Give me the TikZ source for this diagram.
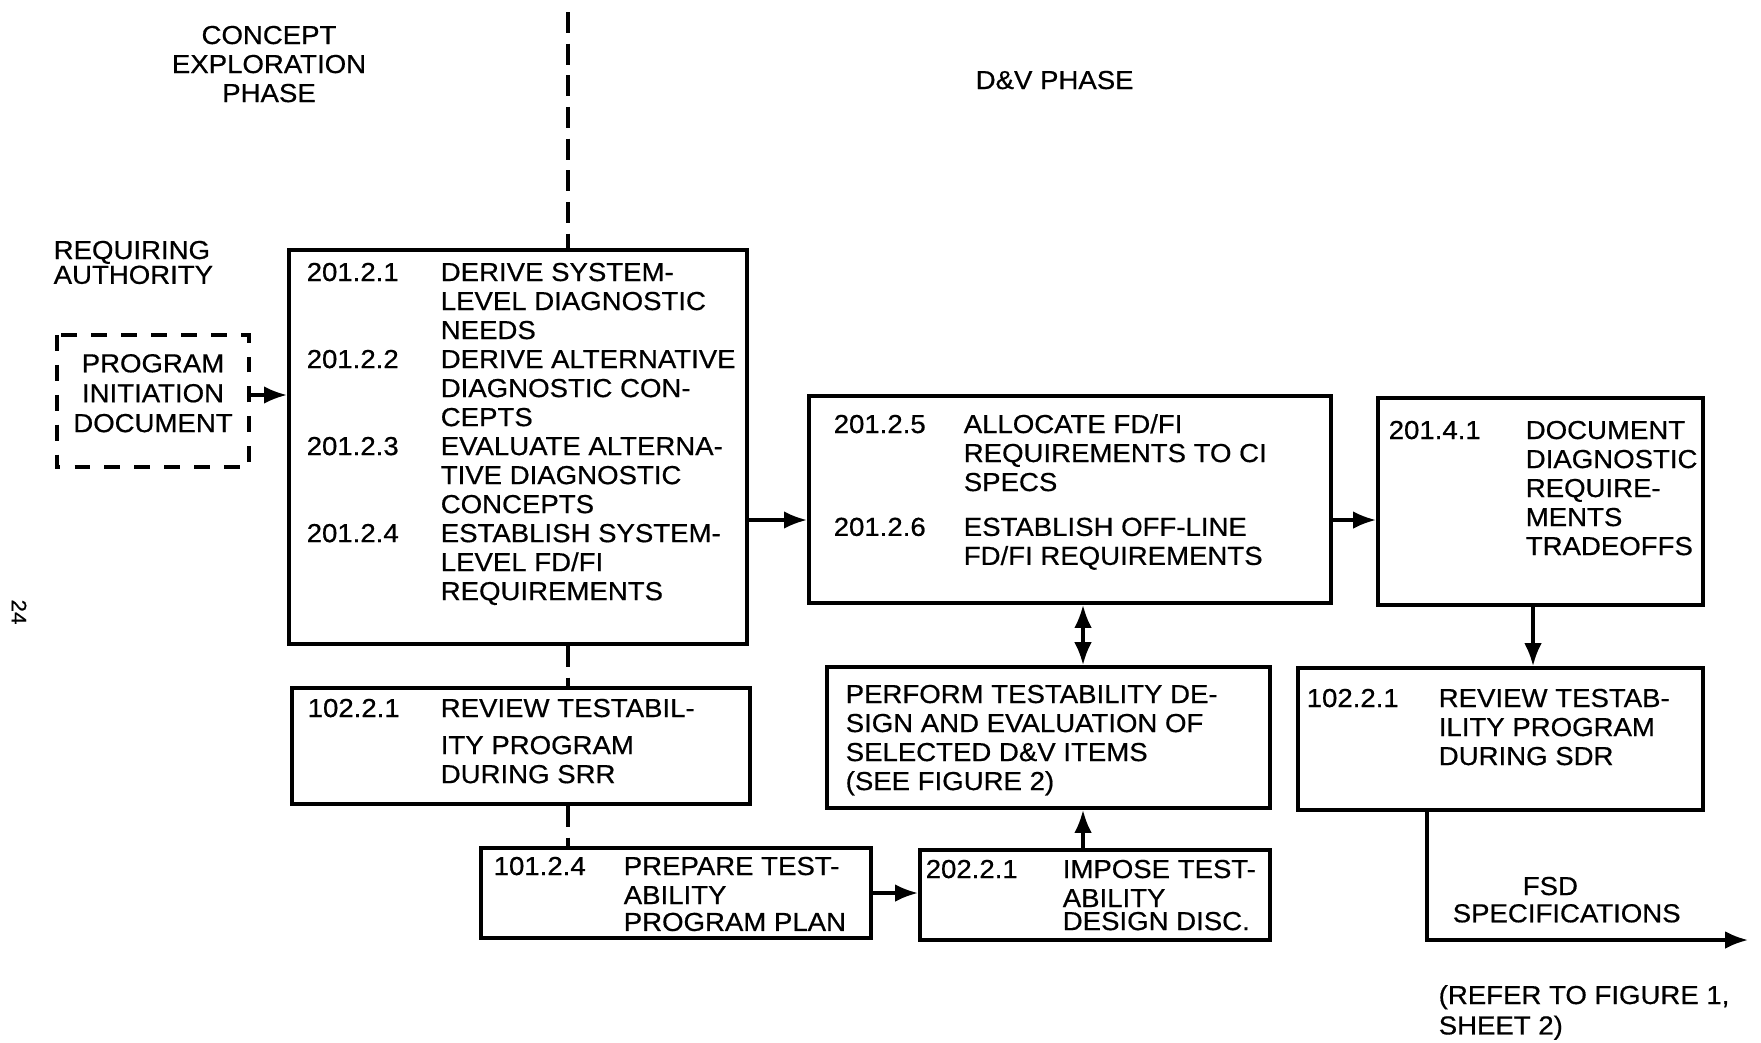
\documentclass[tikz,border=0pt]{standalone}
\usepackage{fontspec}
\setmainfont[FakeStretch=1.06, FakeBold=0.6]{Liberation Sans}
\usetikzlibrary{arrows.meta}

% number column + text column, first row on the baseline
\newenvironment{steps}[1]{\begin{tabular}[t]{@{}p{#1}@{}l@{}}}{\end{tabular}}
\newenvironment{lines}{\begin{tabular}[t]{@{}l@{}}}{\end{tabular}}

\tikzset{
    task/.style={draw, rectangle, line width=1.1pt, inner sep=0pt},
    txt/.style={anchor=base west, inner sep=0pt, font=\fontsize{7.4}{8.25}\selectfont},
    link/.style={line width=0.9pt},
    phase/.style={line width=0.9pt, dash pattern=on 6pt off 3pt},
    >={Latex[length=6.5pt,width=5pt]},
}

\begin{document}
\begin{tikzpicture}[x=0.01cm, y=-0.01cm]
    \useasboundingbox (0,0) rectangle (1761,1042);

    \node[task, minimum width=4.58cm, minimum height=3.94cm] (b1) at (518, 447) {};
    \node[task, minimum width=4.58cm, minimum height=1.16cm] (b2) at (521, 746) {};
    \node[task, minimum width=3.90cm, minimum height=0.90cm] (b8) at (676, 893) {};
    \node[task, minimum width=5.22cm, minimum height=2.07cm] (b3) at (1070, 499.5) {};
    \node[task, minimum width=3.25cm, minimum height=2.07cm] (b4) at (1540.5, 501.5) {};
    \node[task, minimum width=4.43cm, minimum height=1.41cm] (b5) at (1048.5, 737.5) {};
    \node[task, minimum width=4.05cm, minimum height=1.42cm] (b6) at (1500.5, 739) {};
    \node[task, minimum width=3.50cm, minimum height=0.90cm] (b7) at (1095, 895) {};
    \node[task, draw=none, minimum width=1.88cm, minimum height=1.28cm, align=center,
          font=\fontsize{7.4}{8.5}\selectfont] (pid) at (153, 401)
          {PROGRAM\\INITIATION\\DOCUMENT\rule[-4.5pt]{0pt}{4.5pt}};
    \draw[line width=0.9pt, dash pattern=on 4.5pt off 4pt] (pid.north west) rectangle (pid.south east);

    % texts in the boxes
    \node[txt] (t1) at (306, 281) {\begin{steps}{1.34cm}
        201.2.1 & DERIVE SYSTEM-\\
                & LEVEL DIAGNOSTIC\\
                & NEEDS\\
        201.2.2 & DERIVE ALTERNATIVE\\
                & DIAGNOSTIC CON-\\
                & CEPTS\\
        201.2.3 & EVALUATE ALTERNA-\\
                & TIVE DIAGNOSTIC\\
                & CONCEPTS\\
        201.2.4 & ESTABLISH SYSTEM-\\
                & LEVEL FD/FI\\
                & REQUIREMENTS
    \end{steps}};
    \node[txt] (t2) at (307, 717) {\begin{steps}{1.33cm}
        102.2.1 & REVIEW TESTABIL-\\[2.3pt]
                & ITY PROGRAM\\
                & DURING SRR
    \end{steps}};
    \node[txt] (t3) at (833, 433) {\begin{steps}{1.30cm}
        201.2.5 & ALLOCATE FD/FI\\
                & REQUIREMENTS TO CI\\
                & SPECS\\[4.5pt]
        201.2.6 & ESTABLISH OFF-LINE\\
                & FD/FI REQUIREMENTS
    \end{steps}};
    \node[txt] (t4) at (1388, 439) {\begin{steps}{1.37cm}
        201.4.1 & DOCUMENT\\
                & DIAGNOSTIC\\
                & REQUIRE-\\
                & MENTS\\
                & TRADEOFFS
    \end{steps}};
    \node[txt] (t5) at (845, 703) {\begin{lines}
        PERFORM TESTABILITY DE-\\
        SIGN AND EVALUATION OF\\
        SELECTED D\&V ITEMS\\
        (SEE FIGURE 2)
    \end{lines}};
    \node[txt] (t6) at (1306, 707) {\begin{steps}{1.32cm}
        102.2.1 & REVIEW TESTAB-\\
                & ILITY PROGRAM\\
                & DURING SDR
    \end{steps}};
    \node[txt] (t7) at (925, 878) {\begin{steps}{1.37cm}
        202.2.1 & IMPOSE TEST-\\
                & ABILITY\\[-1.7pt]
                & DESIGN DISC.
    \end{steps}};
    \node[txt] (t8) at (493, 875) {\begin{steps}{1.30cm}
        101.2.4 & PREPARE TEST-\\
                & ABILITY\\[-0.6pt]
                & PROGRAM PLAN
    \end{steps}};

    % headings and notes
    \node[txt, anchor=base] (ce) at (269, 44) {\begin{tabular}[t]{@{}c@{}}CONCEPT\\EXPLORATION\\PHASE\end{tabular}};
    \node[txt] (dv) at (975, 89) {D\&V PHASE};
    \node[txt] (ra) at (53, 259) {\begin{lines}REQUIRING\\[-1.2pt]AUTHORITY\end{lines}};
    \node[txt] (fs) at (1452, 895) {\begin{lines}\hspace*{0.7cm}FSD\\[-0.5pt]SPECIFICATIONS\end{lines}};
    \node[txt] (rf) at (1438, 1004) {\begin{lines}(REFER TO FIGURE 1,\\[0.4pt]SHEET 2)\end{lines}};
    \node[txt, anchor=center, rotate=-90, font=\fontsize{6}{7}\selectfont] (pg) at (19, 612) {24};

    \coordinate (top) at (568, 12);
    \coordinate (j0) at (0, 395);
    \coordinate (j1) at (0, 520);
    \coordinate (j2) at (1083, 0);
    \coordinate (j3) at (1533, 0);
    \coordinate (j4) at (1427, 0);
    \coordinate (fsd) at (1748, 940);

    \draw[phase] (top) -- (b1.north -| top);
    \draw[phase] (b1.south -| top) -- (b2.north -| top);
    \draw[phase] (b2.south -| top) -- (b8.north -| top);

    \path[link, ->] (pid.east |- j0) edge (b1.west |- j0);
    \path[link, ->] (b1.east |- j1) edge (b3.west |- j1);
    \path[link, ->] (b3.east |- j1) edge (b4.west |- j1);
    \path[link, <->] (b3.south -| j2) edge (b5.north -| j2);
    \path[link, ->] (b7.north -| j2) edge (b5.south -| j2);
    \path[link, ->] (b8.east) edge (b7.west |- b8.east);
    \path[link, ->] (b4.south -| j3) edge (b6.north -| j3);
    \draw[link, ->] (b6.south -| j4) |- (fsd);
\end{tikzpicture}
\end{document}
